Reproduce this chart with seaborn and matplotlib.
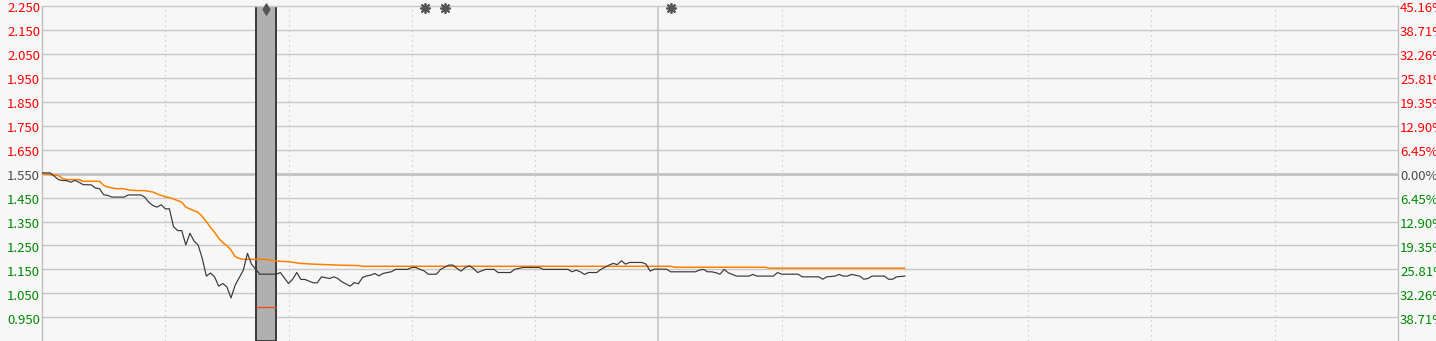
import matplotlib
matplotlib.use("Agg")
import matplotlib.pyplot as plt
import pandas as pd
import seaborn as sns

# ---------------- data ----------------
price_minutes = [0, 2, 3, 4, 5, 6, 7, 8, 9, 10,
                 12, 13, 14, 15, 16, 17, 20, 21, 24, 25,
                 26, 27, 28, 29, 30, 31, 32, 33, 34, 35,
                 36, 37, 38, 39, 40, 41, 42, 43, 44, 45,
                 46, 47, 49, 50, 51, 52, 53, 57, 58, 60,
                 61, 62, 63, 64, 66, 67, 68, 70, 71, 72,
                 73, 75, 76, 77, 78, 79, 80, 81, 82, 83,
                 84, 85, 86, 89, 90, 91, 92, 93, 94, 96,
                 97, 99, 100, 101, 102, 103, 104, 105, 106, 107,
                 108, 110, 111, 114, 115, 117, 121, 122, 128, 129,
                 130, 131, 132, 133, 135, 136, 138, 139, 140, 141,
                 142, 143, 146, 147, 148, 149, 152, 153, 159, 160,
                 161, 162, 163, 164, 165, 166, 167, 169, 172, 173,
                 174, 178, 179, 180, 184, 185, 189, 190, 191, 193,
                 194, 195, 196, 197, 199, 200, 201, 202, 205, 206,
                 207, 208, 210]
price_values = [1.553, 1.553, 1.539, 1.525, 1.521, 1.521, 1.514, 1.522, 1.514, 1.504,
                1.503, 1.490, 1.487, 1.462, 1.459, 1.452, 1.452, 1.461, 1.461, 1.452,
                1.430, 1.417, 1.410, 1.420, 1.403, 1.403, 1.329, 1.312, 1.312, 1.252,
                1.301, 1.269, 1.252, 1.196, 1.122, 1.135, 1.119, 1.080, 1.091, 1.077,
                1.031, 1.084, 1.147, 1.217, 1.171, 1.151, 1.130, 1.130, 1.137, 1.091,
                1.109, 1.137, 1.108, 1.108, 1.094, 1.094, 1.119, 1.112, 1.119, 1.112,
                1.098, 1.080, 1.095, 1.090, 1.116, 1.123, 1.126, 1.133, 1.123, 1.133,
                1.137, 1.140, 1.150, 1.150, 1.158, 1.158, 1.150, 1.144, 1.130, 1.130,
                1.150, 1.168, 1.168, 1.154, 1.143, 1.158, 1.165, 1.154, 1.137, 1.144,
                1.150, 1.150, 1.137, 1.137, 1.150, 1.158, 1.158, 1.150, 1.150, 1.140,
                1.147, 1.140, 1.129, 1.137, 1.137, 1.150, 1.168, 1.175, 1.170, 1.186,
                1.172, 1.179, 1.179, 1.172, 1.143, 1.151, 1.151, 1.140, 1.140, 1.147,
                1.150, 1.140, 1.140, 1.136, 1.130, 1.150, 1.136, 1.122, 1.122, 1.129,
                1.122, 1.122, 1.137, 1.130, 1.130, 1.119, 1.119, 1.109, 1.119, 1.122,
                1.129, 1.122, 1.122, 1.129, 1.122, 1.109, 1.112, 1.122, 1.122, 1.109,
                1.109, 1.119, 1.122]

avg_minutes = [0, 2, 4, 5, 6, 9, 10, 14, 15, 16,
               18, 20, 21, 23, 25, 27, 28, 30, 31, 32,
               34, 35, 37, 38, 39, 40, 41, 42, 43, 44,
               45, 46, 47, 48, 49, 55, 56, 60, 63, 66,
               72, 77, 78, 153, 154, 176, 177, 210]
avg_values = [1.549, 1.546, 1.542, 1.529, 1.525, 1.525, 1.518, 1.518, 1.501, 1.494,
              1.487, 1.487, 1.482, 1.479, 1.479, 1.473, 1.465, 1.453, 1.450, 1.444,
              1.431, 1.410, 1.395, 1.388, 1.371, 1.350, 1.325, 1.305, 1.280, 1.262,
              1.249, 1.231, 1.203, 1.196, 1.192, 1.192, 1.186, 1.182, 1.175, 1.172,
              1.168, 1.166, 1.163, 1.163, 1.159, 1.159, 1.155, 1.155]

prev_close = 1.55
price_ticks = [2.25, 2.15, 2.05, 1.95, 1.85, 1.75, 1.65, 1.55,
               1.45, 1.35, 1.25, 1.15, 1.05, 0.95]
left_labels = ["2.250", "2.150", "2.050", "1.950", "1.850", "1.750", "1.650", "1.550",
               "1.450", "1.350", "1.250", "1.150", "1.050", "0.950"]
right_labels = ["45.16%", "38.71%", "32.26%", "25.81%", "19.35%", "12.90%", "6.45%", "0.00%",
                "6.45%", "12.90%", "19.35%", "25.81%", "32.26%", "38.71%"]
time_grid = [30, 60, 90, 120, 150, 180, 210, 240, 270, 300]
session_break = 150
star_minutes = [93.2, 98.1, 153.0]
band_minutes = (52.1, 57.0)
band_low_mark = 0.993

# ---------------- style ----------------
BG = "#f7f7f7"
RED = "#ff0000"
GREEN = "#008a00"
NEUTRAL = "#4a4a4a"
GRID = "#c8c8c8"

sns.set_style("white")
plt.rcParams["font.family"] = ["Noto Sans CJK SC", "DejaVu Sans"]

W, H = 1436, 341
fig = plt.figure(figsize=(W / 100, H / 100), dpi=100, facecolor=BG)
ax = fig.add_axes([42 / W, 0, (1398 - 42) / W, (H - 6) / H])
ax.set_facecolor(BG)
ax.set_xlim(0, 330)
ax.set_ylim(0.851, 2.25)

# horizontal grid
for v in price_ticks[1:]:
    if abs(v - prev_close) < 1e-9:
        ax.axhline(v, color="#c2c2c2", lw=2.0, zorder=1)
    else:
        ax.axhline(v, color=GRID, lw=1.0, zorder=1)

# vertical grid
for m in time_grid:
    if m == session_break:
        ax.axvline(m, color="#c4c4c4", lw=1.2, zorder=1)
    else:
        ax.axvline(m, color="#c4c4c4", lw=0.9, ls=(0, (1, 3)), zorder=1)

# gray band
ax.axvspan(band_minutes[0], band_minutes[1], facecolor="#b0b0b0",
           edgecolor="#3a3a3a", lw=1.4, zorder=1.5)
ax.hlines(band_low_mark, band_minutes[0], band_minutes[1], color="#e8501e", lw=1.0, zorder=2)

# lines
df_price = pd.DataFrame({"minute": price_minutes, "price": price_values})
df_avg = pd.DataFrame({"minute": avg_minutes, "price": avg_values})
sns.lineplot(data=df_avg, x="minute", y="price", ax=ax, color="#ff8000",
             lw=1.1, estimator=None, zorder=3)
sns.lineplot(data=df_price, x="minute", y="price", ax=ax, color="#383838",
             lw=0.85, estimator=None, zorder=4)

# markers at top
ax.scatter(star_minutes, [2.243] * len(star_minutes), marker=(8, 2, 0), s=45,
           color="#555555", linewidths=1.3, zorder=5, clip_on=False)
ax.scatter([(band_minutes[0] + band_minutes[1]) / 2], [2.237], marker="d", s=32,
           color="#555555", edgecolor="#555555", zorder=5, clip_on=False)

ax.set_xlabel("")
ax.set_ylabel("")
ax.set_xticks([])
ax.set_yticks([])


def label_color(v):
    if abs(v - prev_close) < 1e-9:
        return NEUTRAL
    return RED if v > prev_close else GREEN


ytrans = ax.get_yaxis_transform()
for v, lab_l, lab_r in zip(price_ticks, left_labels, right_labels):
    c = label_color(v)
    ax.annotate(lab_l, xy=(0, v), xycoords=ytrans, xytext=(-2, -3),
                textcoords="offset pixels", ha="right", va="center",
                fontsize=9.5, color=c, annotation_clip=False)
    ax.annotate(lab_r, xy=(1, v), xycoords=ytrans, xytext=(2, -3),
                textcoords="offset pixels", ha="left", va="center",
                fontsize=9.5, color=c, annotation_clip=False)

ax.spines["bottom"].set_visible(False)
ax.spines["top"].set_color(GRID)
ax.spines["left"].set_color("#bdbdbd")
ax.spines["right"].set_color("#bdbdbd")
for s in ax.spines.values():
    s.set_linewidth(1.0)

fig.savefig("out.png", dpi=100, facecolor=BG)
